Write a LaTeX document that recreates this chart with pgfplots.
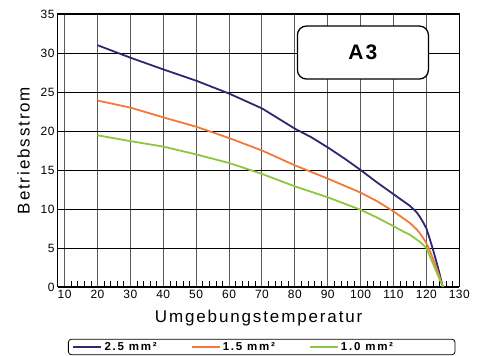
\documentclass[border=0pt]{standalone}
\usepackage{fontspec}
\setmainfont{Liberation Sans}
\newfontfamily\tickfont[LetterSpace=4]{Liberation Sans}
\newfontfamily\labfont[LetterSpace=11]{Liberation Sans}
\newfontfamily\legfont[LetterSpace=15]{Liberation Sans}
\newfontfamily\boxfont[LetterSpace=10]{Liberation Sans}
\usepackage{pgfplots}
\pgfplotsset{compat=1.18}
\definecolor{cblue}{RGB}{43,42,112}
\definecolor{corange}{RGB}{244,121,56}
\definecolor{cgreen}{RGB}{141,198,63}
\begin{document}
\begin{tikzpicture}
\path[use as bounding box] (0,0) rectangle (477pt,356pt);
\begin{axis}[
  at={(58pt,69pt)}, anchor=south west,
  scale only axis, width=401.3pt, height=273pt,
  xmin=8, xmax=130, ymin=0, ymax=35,
  xtick={10,20,...,130}, ytick={0,5,10,15,20,25,35},
  extra y ticks={30},
  extra y tick style={grid style={black!50, line width=1.1pt}},
  minor x tick num=4, minor y tick num=4,
  xtick pos=bottom, ytick pos=left,
  tick align=inside,
  major tick length=0pt, minor tick length=5.5pt,
  minor tick style={black, line width=0.6pt},
  xmajorgrids, ymajorgrids,
  x grid style={black!65, line width=0.9pt},
  y grid style={black, line width=0.7pt},
  axis line style={black, line width=1pt},
  /pgf/number format/assume math mode=true,
  ticklabel style={font=\tickfont\fontsize{12}{13}\selectfont},
  xlabel={\labfont\fontsize{17}{18}\selectfont Umgebungstemperatur},
  ylabel={\labfont\fontsize{17}{18}\selectfont Betriebsstrom},
  xlabel style={yshift=-4pt},
  ylabel style={yshift=4pt},
  legend columns=3,
  legend style={at={(0.5076,-0.2198)}, anchor=center, draw=black, line width=0.8pt,
    rounded corners=3pt, inner ysep=1pt, inner xsep=4pt,
    font=\legfont\bfseries\fontsize{11.5}{12}\selectfont,
    /tikz/every even column/.append style={column sep=0pt}},
  legend image code/.code={\draw[line width=2.2pt] (0pt,0pt) -- (28pt,0pt);},
]
\addplot[cblue, line width=1.8pt] coordinates {
(20,31)(30,29.4)(40,27.9)(50,26.45)(60,24.8)(70,22.9)(80,20.3)(85,19.2)(90,17.9)(95,16.5)(100,15.0)(105,13.4)(110,11.9)(113,11.0)(115,10.4)(117,9.6)(118,9.0)(119,8.3)(120,7.5)(121,6.2)(122,4.8)(123,3.3)(124,1.7)(125,0)};
\addlegendentry{\makebox[84pt][l]{2.5 mm²}}
\addplot[corange, line width=1.8pt] coordinates {
(20,23.9)(30,23.0)(40,21.75)(50,20.55)(60,19.1)(70,17.5)(80,15.6)(90,13.9)(100,12.1)(105,11.0)(110,9.7)(113,8.8)(115,8.2)(117,7.4)(118,6.9)(119,6.3)(120,5.6)(121,4.7)(122,3.6)(123,2.5)(124,1.3)(125,0)};
\addlegendentry{\makebox[84pt][l]{1.5 mm²}}
\addplot[cgreen, line width=1.8pt] coordinates {
(20,19.45)(30,18.7)(40,18.0)(50,17.0)(60,15.9)(70,14.5)(80,12.9)(90,11.5)(100,9.9)(105,8.9)(110,7.8)(113,7.1)(115,6.7)(117,6.1)(118,5.8)(119,5.4)(120,5.0)(121,4.0)(122,3.0)(123,2.0)(124,1.0)(125,0)};
\addlegendentry{\makebox[108pt][l]{1.0 mm²}}
\node[draw=black, line width=1.3pt, rounded corners=9pt, fill=white,
  minimum width=131pt, minimum height=53pt,
  font=\boxfont\bfseries\fontsize{21}{22}\selectfont] at (axis cs:100.7,30.06) {A3};
\end{axis}
\end{tikzpicture}
\end{document}
